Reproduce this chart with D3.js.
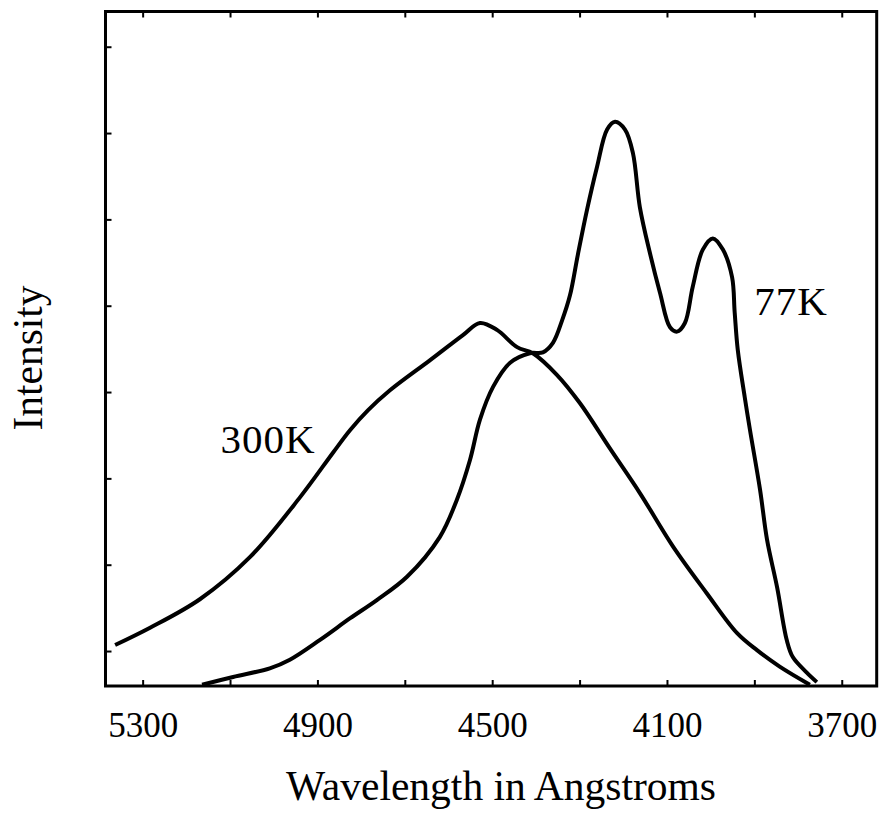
<!DOCTYPE html>
<html>
<head>
<meta charset="utf-8">
<script src="https://cdn.jsdelivr.net/npm/d3@7"></script>
<style>
  html, body { margin: 0; padding: 0; background: #fff; }
  svg { display: block; }
  text { font-family: "Liberation Serif", "Times New Roman", serif; fill: #000; }
</style>
</head>
<body>
<svg id="chart" width="882" height="829"></svg>
<script>
// ---- data (wavelength in Å, intensity in arbitrary units) ----
const xTicks = [5300, 5100, 4900, 4700, 4500, 4300, 4100, 3900, 3700];
const xTickLabels = [5300, 4900, 4500, 4100, 3700];
const yTicks = [1, 2, 3, 4, 5, 6, 7, 8];

const wl300 = [5363, 5283, 5169, 5054, 4940, 4864, 4825, 4784, 4734, 4642, 4567, 4528, 4489, 4443, 4407, 4352, 4299, 4231, 4162, 4086, 4009, 3940, 3894, 3842, 3773];
const int300 = [1.07, 1.27, 1.60, 2.09, 2.78, 3.30, 3.56, 3.79, 4.02, 4.37, 4.66, 4.80, 4.72, 4.52, 4.45, 4.20, 3.87, 3.35, 2.83, 2.21, 1.67, 1.21, 1.01, 0.82, 0.61];

const wl77 = [5164, 5093, 5009, 4963, 4894, 4825, 4764, 4695, 4620, 4581, 4551, 4528, 4498, 4459, 4414, 4384, 4361, 4340, 4322, 4304, 4283, 4260, 4237, 4219, 4196, 4178, 4162, 4139, 4116, 4093, 4077, 4059, 4041, 4018, 3995, 3972, 3951, 3945, 3938, 3922, 3910, 3887, 3871, 3848, 3826, 3812, 3780, 3757];
const int77 = [0.61, 0.70, 0.80, 0.90, 1.13, 1.38, 1.59, 1.86, 2.32, 2.75, 3.21, 3.68, 4.06, 4.34, 4.45, 4.46, 4.57, 4.83, 5.12, 5.59, 6.11, 6.61, 7.04, 7.13, 7.04, 6.77, 6.14, 5.61, 5.15, 4.75, 4.70, 4.80, 5.22, 5.65, 5.78, 5.65, 5.33, 4.92, 4.49, 3.94, 3.56, 2.87, 2.29, 1.74, 1.13, 0.93, 0.75, 0.64];

const seriesLabels = ["300K", "77K"];
const labelPos = [[5013, 3.29], [3816, 4.89]];

// ---- layout ----
const svg = d3.select("#chart");
const L = 105.5, R = 876.7, T = 11.5, B = 686;

const x = d3.scaleLinear().domain([5385, 3620]).range([L, R]);
const y = d3.scaleLinear().domain([0.595, 8.408]).range([B, T]);

// frame
svg.append("rect")
  .attr("x", L).attr("y", T).attr("width", R - L).attr("height", B - T)
  .attr("fill", "none").attr("stroke", "#000").attr("stroke-width", 3);

// bottom axis
const gx = svg.append("g").attr("transform", `translate(0,${B})`)
  .call(d3.axisBottom(x).tickValues(xTicks).tickSize(-6).tickPadding(26)
    .tickFormat(d => xTickLabels.includes(d) ? String(d) : ""));
gx.select(".domain").remove();
gx.selectAll(".tick line").attr("stroke", "#000").attr("stroke-width", 2);
gx.selectAll(".tick text").attr("font-size", 35)
  .attr("font-family", "'Liberation Serif', 'Times New Roman', serif");

// top axis (ticks only)
const gt = svg.append("g").attr("transform", `translate(0,${T})`)
  .call(d3.axisTop(x).tickValues(xTicks).tickSize(-6).tickFormat(""));
gt.select(".domain").remove();
gt.selectAll(".tick line").attr("stroke", "#000").attr("stroke-width", 2);

// left axis (ticks only)
const gy = svg.append("g").attr("transform", `translate(${L},0)`)
  .call(d3.axisLeft(y).tickValues(yTicks).tickSize(-6).tickFormat(""));
gy.select(".domain").remove();
gy.selectAll(".tick line").attr("stroke", "#000").attr("stroke-width", 2);

// curves
const line = d3.line()
  .x(d => x(d[0])).y(d => y(d[1]))
  .curve(d3.curveCatmullRom.alpha(0.5));

const s300 = wl300.map((w, i) => [w, int300[i]]);
const s77 = wl77.map((w, i) => [w, int77[i]]);

[s300, s77].forEach(s => {
  svg.append("path").datum(s)
    .attr("d", line)
    .attr("fill", "none").attr("stroke", "#000")
    .attr("stroke-width", 4).attr("stroke-linejoin", "round").attr("stroke-linecap", "butt");
});

// series labels
seriesLabels.forEach((t, i) => {
  svg.append("text").attr("x", x(labelPos[i][0])).attr("y", y(labelPos[i][1]))
    .attr("text-anchor", "middle").attr("font-size", 41).attr("letter-spacing", 1).text(t);
});

// axis titles
svg.append("text").attr("x", 501).attr("y", 800)
  .attr("text-anchor", "middle").attr("font-size", 41.5)
  .text("Wavelength in Angstroms");
svg.append("text")
  .attr("transform", "translate(42,358) rotate(-90)")
  .attr("text-anchor", "middle").attr("font-size", 41.5)
  .text("Intensity");
</script>
</body>
</html>
